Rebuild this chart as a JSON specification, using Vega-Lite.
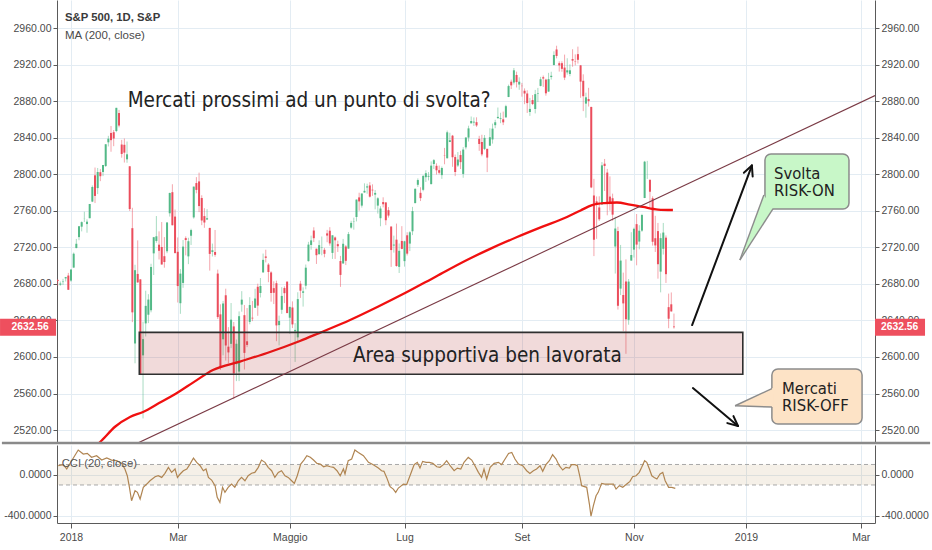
{
"$schema":"https://vega.github.io/schema/vega-lite/v6.json",
"background":"white",
"padding":0,
"spacing":2,
"bounds":"flush",
"config":{"view":{"stroke":null},"axis":{"labelFont":"Liberation Sans","labelFontSize":10.5,"labelColor":"#4a4a4a","domainColor":"#5a5a5a","tickColor":"#5a5a5a","gridColor":"#e3ecf3","gridWidth":1,"tickSize":4,"labelPadding":2}},
"datasets":{
"candles":[
{"n":-5,"o":2684.2,"h":2685.4,"l":2678.1,"c":2683.3},{"n":-4,"o":2679.1,"h":2682.7,"l":2678.0,"c":2680.5},{"n":-3,"o":2682.1,"h":2685.6,"l":2678.9,"c":2682.6},{"n":-2,"o":2686.1,"h":2687.7,"l":2682.7,"c":2687.5},{"n":-1,"o":2689.2,"h":2692.1,"l":2673.6,"c":2673.6},
{"n":0,"o":2683.7,"h":2695.9,"l":2682.4,"c":2695.8},{"n":1,"o":2697.9,"h":2714.4,"l":2697.8,"c":2713.1},{"n":2,"o":2719.3,"h":2729.3,"l":2719.1,"c":2724.0},{"n":3,"o":2731.3,"h":2743.5,"l":2727.9,"c":2743.2},{"n":4,"o":2742.7,"h":2748.5,"l":2737.6,"c":2747.7},{"n":5,"o":2751.2,"h":2759.1,"l":2747.9,"c":2751.3},{"n":6,"o":2745.6,"h":2750.8,"l":2736.1,"c":2748.2},{"n":7,"o":2752.0,"h":2767.6,"l":2752.0,"c":2767.6},{"n":8,"o":2770.2,"h":2787.9,"l":2769.6,"c":2786.2},{"n":9,"o":2799.0,"h":2807.5,"l":2768.6,"c":2776.4},
{"n":10,"o":2785.0,"h":2807.0,"l":2778.4,"c":2802.6},{"n":11,"o":2802.4,"h":2805.8,"l":2792.6,"c":2798.0},{"n":12,"o":2802.6,"h":2810.3,"l":2798.1,"c":2810.3},{"n":13,"o":2809.2,"h":2833.0,"l":2808.1,"c":2833.0},{"n":14,"o":2835.1,"h":2842.2,"l":2830.6,"c":2839.1},{"n":15,"o":2845.4,"h":2853.0,"l":2824.8,"c":2837.5},{"n":16,"o":2846.2,"h":2848.6,"l":2830.9,"c":2839.3},{"n":17,"o":2847.5,"h":2872.9,"l":2846.2,"c":2872.9},{"n":18,"o":2867.2,"h":2870.6,"l":2851.5,"c":2853.5},{"n":19,"o":2832.7,"h":2837.8,"l":2818.3,"c":2822.4},
{"n":20,"o":2832.4,"h":2839.3,"l":2813.0,"c":2823.8},{"n":21,"o":2816.5,"h":2836.0,"l":2812.7,"c":2822.0},{"n":22,"o":2808.9,"h":2808.9,"l":2760.0,"c":2762.1},{"n":23,"o":2741.1,"h":2763.4,"l":2638.2,"c":2648.9},{"n":24,"o":2614.8,"h":2701.0,"l":2593.1,"c":2695.1},{"n":25,"o":2691.0,"h":2727.7,"l":2681.3,"c":2681.7},{"n":26,"o":2685.0,"h":2685.3,"l":2580.6,"c":2581.0},{"n":27,"o":2601.8,"h":2638.7,"l":2532.7,"c":2619.6},{"n":28,"o":2636.8,"h":2672.6,"l":2622.5,"c":2656.0},{"n":29,"o":2646.3,"h":2668.8,"l":2637.1,"c":2662.9},
{"n":30,"o":2651.2,"h":2702.1,"l":2648.9,"c":2698.6},{"n":31,"o":2713.5,"h":2731.5,"l":2689.8,"c":2731.2},{"n":32,"o":2727.1,"h":2754.4,"l":2725.1,"c":2732.2},{"n":33,"o":2723.0,"h":2737.6,"l":2706.8,"c":2716.3},{"n":34,"o":2720.5,"h":2747.8,"l":2701.3,"c":2701.3},{"n":35,"o":2710.4,"h":2731.3,"l":2697.8,"c":2704.0},{"n":36,"o":2715.8,"h":2747.8,"l":2713.7,"c":2747.3},{"n":37,"o":2757.4,"h":2780.0,"l":2753.8,"c":2779.6},{"n":38,"o":2780.5,"h":2789.2,"l":2744.2,"c":2744.3},{"n":39,"o":2753.8,"h":2761.5,"l":2713.5,"c":2713.8},
{"n":40,"o":2715.2,"h":2730.9,"l":2659.7,"c":2677.7},{"n":41,"o":2658.9,"h":2696.3,"l":2647.3,"c":2691.3},{"n":42,"o":2681.1,"h":2728.1,"l":2675.8,"c":2720.9},{"n":43,"o":2730.2,"h":2732.1,"l":2711.3,"c":2728.1},{"n":44,"o":2710.2,"h":2730.6,"l":2701.7,"c":2726.8},{"n":45,"o":2732.8,"h":2740.5,"l":2722.7,"c":2739.0},{"n":46,"o":2752.9,"h":2786.6,"l":2751.5,"c":2786.6},{"n":47,"o":2790.5,"h":2797.0,"l":2779.3,"c":2783.0},{"n":48,"o":2792.3,"h":2801.9,"l":2758.7,"c":2765.3},{"n":49,"o":2774.1,"h":2777.1,"l":2744.4,"c":2749.5},
{"n":50,"o":2754.3,"h":2763.0,"l":2741.5,"c":2747.3},{"n":51,"o":2750.6,"h":2761.9,"l":2750.0,"c":2752.0},{"n":52,"o":2741.4,"h":2741.4,"l":2694.6,"c":2712.9},{"n":53,"o":2715.1,"h":2724.2,"l":2710.1,"c":2716.9},{"n":54,"o":2715.0,"h":2739.1,"l":2709.8,"c":2711.9},{"n":55,"o":2691.4,"h":2695.7,"l":2641.6,"c":2643.7},{"n":56,"o":2646.7,"h":2657.7,"l":2585.9,"c":2588.3},{"n":57,"o":2619.4,"h":2661.4,"l":2601.8,"c":2658.6},{"n":58,"o":2667.6,"h":2674.8,"l":2596.1,"c":2612.6},{"n":59,"o":2611.3,"h":2632.7,"l":2593.1,"c":2605.0},
{"n":60,"o":2614.4,"h":2659.1,"l":2609.7,"c":2640.9},{"n":61,"o":2633.5,"h":2638.3,"l":2553.8,"c":2581.9},{"n":62,"o":2592.2,"h":2619.1,"l":2573.6,"c":2614.5},{"n":63,"o":2584.0,"h":2649.9,"l":2573.6,"c":2644.7},{"n":64,"o":2657.4,"h":2672.1,"l":2649.6,"c":2662.8},{"n":65,"o":2645.8,"h":2656.9,"l":2586.3,"c":2604.5},{"n":66,"o":2617.2,"h":2653.6,"l":2610.8,"c":2613.2},{"n":67,"o":2638.4,"h":2665.5,"l":2635.8,"c":2656.9},{"n":68,"o":2643.0,"h":2661.4,"l":2639.3,"c":2642.2},{"n":69,"o":2653.8,"h":2674.7,"l":2653.8,"c":2664.0},
{"n":70,"o":2676.9,"h":2680.3,"l":2645.1,"c":2656.3},{"n":71,"o":2670.1,"h":2686.5,"l":2665.2,"c":2677.8},{"n":72,"o":2692.7,"h":2713.3,"l":2692.1,"c":2706.4},{"n":73,"o":2710.1,"h":2717.5,"l":2703.6,"c":2708.6},{"n":74,"o":2701.2,"h":2702.8,"l":2681.9,"c":2693.1},{"n":75,"o":2692.6,"h":2693.9,"l":2660.6,"c":2670.1},{"n":76,"o":2675.4,"h":2682.9,"l":2658.0,"c":2670.3},{"n":77,"o":2680.8,"h":2683.6,"l":2617.3,"c":2634.6},{"n":78,"o":2634.9,"h":2645.3,"l":2612.7,"c":2639.4},{"n":79,"o":2651.7,"h":2676.5,"l":2647.2,"c":2666.9},
{"n":80,"o":2675.5,"h":2677.4,"l":2659.0,"c":2669.9},{"n":81,"o":2682.5,"h":2682.9,"l":2648.0,"c":2648.1},{"n":82,"o":2643.0,"h":2655.3,"l":2625.4,"c":2654.8},{"n":83,"o":2654.2,"h":2660.9,"l":2631.7,"c":2635.7},{"n":84,"o":2628.1,"h":2637.1,"l":2594.6,"c":2629.7},{"n":85,"o":2621.5,"h":2670.9,"l":2615.3,"c":2663.4},{"n":86,"o":2680.3,"h":2683.4,"l":2664.7,"c":2672.6},{"n":87,"o":2670.3,"h":2676.3,"l":2655.2,"c":2671.9},{"n":88,"o":2678.1,"h":2701.3,"l":2674.1,"c":2697.8},{"n":89,"o":2705.0,"h":2726.1,"l":2704.5,"c":2723.1},
{"n":90,"o":2722.7,"h":2732.9,"l":2717.5,"c":2727.7},{"n":91,"o":2738.5,"h":2742.1,"l":2725.9,"c":2730.1},{"n":92,"o":2718.6,"h":2718.6,"l":2701.9,"c":2711.5},{"n":93,"o":2712.6,"h":2727.8,"l":2712.2,"c":2722.5},{"n":94,"o":2719.7,"h":2732.0,"l":2711.4,"c":2720.1},{"n":95,"o":2717.4,"h":2719.5,"l":2709.2,"c":2713.0},{"n":96,"o":2735.4,"h":2739.2,"l":2725.7,"c":2733.0},{"n":97,"o":2738.3,"h":2742.2,"l":2721.9,"c":2724.4},{"n":98,"o":2714.0,"h":2733.3,"l":2707.4,"c":2733.3},{"n":99,"o":2730.9,"h":2732.0,"l":2707.4,"c":2727.8},
{"n":100,"o":2723.6,"h":2727.4,"l":2715.0,"c":2721.3},{"n":101,"o":2705.1,"h":2710.7,"l":2676.8,"c":2689.9},{"n":102,"o":2702.4,"h":2729.3,"l":2702.4,"c":2724.0},{"n":103,"o":2721.0,"h":2722.5,"l":2700.7,"c":2705.3},{"n":104,"o":2718.7,"h":2736.9,"l":2718.7,"c":2734.6},{"n":105,"o":2741.7,"h":2749.2,"l":2740.5,"c":2746.9},{"n":106,"o":2748.5,"h":2752.6,"l":2739.5,"c":2748.8},{"n":107,"o":2753.3,"h":2772.4,"l":2748.5,"c":2772.4},{"n":108,"o":2774.8,"h":2779.9,"l":2760.2,"c":2770.4},{"n":109,"o":2765.8,"h":2779.4,"l":2763.6,"c":2779.0},
{"n":110,"o":2780.2,"h":2790.2,"l":2779.9,"c":2782.0},{"n":111,"o":2785.6,"h":2789.8,"l":2778.8,"c":2786.9},{"n":112,"o":2787.9,"h":2791.5,"l":2774.7,"c":2775.6},{"n":113,"o":2783.2,"h":2789.1,"l":2776.5,"c":2782.5},{"n":114,"o":2777.8,"h":2782.8,"l":2761.7,"c":2779.7},{"n":115,"o":2765.8,"h":2775.0,"l":2757.1,"c":2773.8},{"n":116,"o":2752.0,"h":2765.1,"l":2743.2,"c":2762.6},{"n":117,"o":2769.7,"h":2774.9,"l":2763.9,"c":2767.3},{"n":118,"o":2769.3,"h":2769.3,"l":2744.4,"c":2749.8},{"n":119,"o":2760.8,"h":2764.2,"l":2752.7,"c":2754.9},
{"n":120,"o":2742.9,"h":2742.9,"l":2698.7,"c":2717.1},{"n":121,"o":2722.1,"h":2732.9,"l":2714.3,"c":2723.1},{"n":122,"o":2728.5,"h":2746.1,"l":2699.0,"c":2699.6},{"n":123,"o":2698.7,"h":2724.3,"l":2692.0,"c":2716.3},{"n":124,"o":2727.1,"h":2743.3,"l":2718.0,"c":2718.4},{"n":125,"o":2705.0,"h":2727.3,"l":2699.0,"c":2726.7},{"n":126,"o":2733.3,"h":2736.6,"l":2711.2,"c":2713.2},{"n":127,"o":2724.2,"h":2737.8,"l":2716.0,"c":2736.6},{"n":128,"o":2737.7,"h":2764.4,"l":2733.5,"c":2759.8},{"n":129,"o":2768.5,"h":2784.7,"l":2768.5,"c":2784.2},
{"n":130,"o":2788.6,"h":2795.6,"l":2786.2,"c":2793.8},{"n":131,"o":2779.8,"h":2785.9,"l":2770.8,"c":2774.0},{"n":132,"o":2783.1,"h":2799.2,"l":2781.5,"c":2798.3},{"n":133,"o":2796.9,"h":2804.5,"l":2791.7,"c":2801.3},{"n":134,"o":2797.4,"h":2802.5,"l":2793.4,"c":2798.4},{"n":135,"o":2789.3,"h":2814.2,"l":2789.2,"c":2809.6},{"n":136,"o":2811.4,"h":2816.8,"l":2805.9,"c":2815.6},{"n":137,"o":2809.4,"h":2812.1,"l":2799.8,"c":2804.5},{"n":138,"o":2804.6,"h":2809.7,"l":2800.0,"c":2801.8},{"n":139,"o":2799.2,"h":2808.6,"l":2795.1,"c":2807.0},
{"n":140,"o":2820.7,"h":2829.0,"l":2811.1,"c":2820.4},{"n":141,"o":2817.7,"h":2848.0,"l":2817.4,"c":2846.1},{"n":142,"o":2835.5,"h":2845.6,"l":2835.3,"c":2837.4},{"n":143,"o":2842.4,"h":2843.2,"l":2808.3,"c":2818.8},{"n":144,"o":2819.0,"h":2821.7,"l":2798.1,"c":2802.6},{"n":145,"o":2809.7,"h":2824.5,"l":2808.1,"c":2816.3},{"n":146,"o":2821.2,"h":2825.8,"l":2805.9,"c":2813.4},{"n":147,"o":2800.5,"h":2829.9,"l":2796.3,"c":2827.2},{"n":148,"o":2829.6,"h":2840.4,"l":2827.4,"c":2840.4},{"n":149,"o":2840.3,"h":2853.3,"l":2836.0,"c":2850.4},
{"n":150,"o":2855.9,"h":2863.4,"l":2855.9,"c":2858.5},{"n":151,"o":2856.8,"h":2862.4,"l":2853.1,"c":2857.7},{"n":152,"o":2857.2,"h":2862.5,"l":2852.0,"c":2853.6},{"n":153,"o":2838.9,"h":2842.2,"l":2825.8,"c":2833.3},{"n":154,"o":2835.5,"h":2843.4,"l":2819.9,"c":2821.9},{"n":155,"o":2827.9,"h":2843.1,"l":2826.6,"c":2840.0},{"n":156,"o":2828.0,"h":2828.0,"l":2802.5,"c":2818.4},{"n":157,"o":2831.4,"h":2850.5,"l":2831.4,"c":2840.7},{"n":158,"o":2838.3,"h":2855.6,"l":2833.7,"c":2850.1},{"n":159,"o":2853.9,"h":2859.8,"l":2850.6,"c":2857.1},
{"n":160,"o":2861.5,"h":2873.2,"l":2861.3,"c":2863.0},{"n":161,"o":2861.0,"h":2867.5,"l":2856.1,"c":2861.8},{"n":162,"o":2860.3,"h":2868.8,"l":2854.0,"c":2857.0},{"n":163,"o":2862.4,"h":2876.2,"l":2862.4,"c":2874.7},{"n":164,"o":2884.7,"h":2898.3,"l":2884.7,"c":2896.7},{"n":165,"o":2901.5,"h":2903.8,"l":2893.5,"c":2897.5},{"n":166,"o":2900.6,"h":2916.5,"l":2898.4,"c":2914.0},{"n":167,"o":2908.9,"h":2912.5,"l":2895.2,"c":2901.1},{"n":168,"o":2898.4,"h":2906.3,"l":2892.7,"c":2901.5},{"n":169,"o":2897.0,"h":2900.2,"l":2885.1,"c":2896.7},
{"n":170,"o":2891.6,"h":2894.2,"l":2876.9,"c":2888.6},{"n":171,"o":2888.6,"h":2892.1,"l":2867.3,"c":2878.1},{"n":172,"o":2868.3,"h":2883.8,"l":2864.1,"c":2871.7},{"n":173,"o":2881.4,"h":2886.9,"l":2875.9,"c":2877.1},{"n":174,"o":2871.6,"h":2892.5,"l":2866.8,"c":2887.9},{"n":175,"o":2888.3,"h":2894.7,"l":2879.2,"c":2888.9},{"n":176,"o":2896.9,"h":2906.8,"l":2896.4,"c":2904.2},{"n":177,"o":2906.4,"h":2908.3,"l":2895.8,"c":2905.0},{"n":178,"o":2903.8,"h":2904.7,"l":2886.2,"c":2888.8},{"n":179,"o":2890.7,"h":2911.2,"l":2890.4,"c":2904.3},
{"n":180,"o":2906.6,"h":2912.4,"l":2903.8,"c":2908.0},{"n":181,"o":2919.7,"h":2934.8,"l":2919.7,"c":2930.8},{"n":182,"o":2936.8,"h":2940.9,"l":2927.1,"c":2929.7},{"n":183,"o":2921.8,"h":2923.8,"l":2912.6,"c":2919.4},{"n":184,"o":2921.8,"h":2923.9,"l":2912.4,"c":2915.6},{"n":185,"o":2917.0,"h":2931.2,"l":2903.3,"c":2906.0},{"n":186,"o":2911.7,"h":2927.2,"l":2909.3,"c":2914.0},{"n":187,"o":2910.0,"h":2920.5,"l":2907.5,"c":2914.0},{"n":188,"o":2926.3,"h":2937.1,"l":2917.9,"c":2924.6},{"n":189,"o":2923.8,"h":2931.4,"l":2919.4,"c":2923.4},
{"n":190,"o":2931.7,"h":2939.9,"l":2921.4,"c":2925.5},{"n":191,"o":2919.4,"h":2919.8,"l":2883.9,"c":2901.6},{"n":192,"o":2902.5,"h":2909.6,"l":2869.3,"c":2885.6},{"n":193,"o":2877.5,"h":2889.5,"l":2862.1,"c":2884.4},{"n":194,"o":2882.5,"h":2894.8,"l":2874.3,"c":2880.3},{"n":195,"o":2873.9,"h":2874.0,"l":2784.9,"c":2785.7},{"n":196,"o":2776.9,"h":2795.1,"l":2710.5,"c":2728.4},{"n":197,"o":2770.5,"h":2775.8,"l":2729.4,"c":2767.1},{"n":198,"o":2763.8,"h":2776.0,"l":2749.0,"c":2750.8},{"n":199,"o":2767.1,"h":2813.5,"l":2766.9,"c":2809.9},
{"n":200,"o":2811.7,"h":2816.9,"l":2781.8,"c":2809.2},{"n":201,"o":2802.0,"h":2806.0,"l":2755.2,"c":2768.8},{"n":202,"o":2775.7,"h":2797.8,"l":2760.3,"c":2767.8},{"n":203,"o":2773.9,"h":2778.9,"l":2749.2,"c":2755.9},{"n":204,"o":2721.0,"h":2753.6,"l":2691.4,"c":2740.7},{"n":205,"o":2737.9,"h":2742.6,"l":2651.9,"c":2656.1},{"n":206,"o":2674.9,"h":2722.7,"l":2667.8,"c":2705.6},{"n":207,"o":2667.9,"h":2692.4,"l":2628.2,"c":2658.7},{"n":208,"o":2682.7,"h":2706.9,"l":2603.5,"c":2641.3},{"n":209,"o":2640.7,"h":2685.4,"l":2635.3,"c":2682.6},
{"n":210,"o":2705.6,"h":2736.7,"l":2705.6,"c":2711.7},{"n":211,"o":2717.6,"h":2741.7,"l":2708.9,"c":2740.4},{"n":212,"o":2745.5,"h":2756.6,"l":2700.4,"c":2723.1},{"n":213,"o":2726.4,"h":2744.3,"l":2717.9,"c":2738.3},{"n":214,"o":2738.4,"h":2756.8,"l":2737.1,"c":2755.5},{"n":215,"o":2774.1,"h":2814.8,"l":2774.1,"c":2813.9},{"n":216,"o":2806.8,"h":2814.8,"l":2795.0,"c":2806.8},{"n":217,"o":2794.1,"h":2794.1,"l":2764.2,"c":2781.0},{"n":218,"o":2773.9,"h":2776.0,"l":2722.0,"c":2726.2},{"n":219,"o":2730.1,"h":2754.6,"l":2715.0,"c":2722.2},
{"n":220,"o":2737.9,"h":2746.8,"l":2685.8,"c":2701.6},{"n":221,"o":2693.5,"h":2735.4,"l":2670.8,"c":2730.2},{"n":222,"o":2718.5,"h":2746.8,"l":2712.2,"c":2736.3},{"n":223,"o":2730.7,"h":2733.2,"l":2681.1,"c":2690.7},{"n":224,"o":2654.6,"h":2669.4,"l":2631.5,"c":2641.9},{"n":225,"o":2657.7,"h":2670.7,"l":2649.8,"c":2649.9},{"n":226,"o":2633.4,"h":2647.6,"l":2631.1,"c":2632.6}
],
"ma":[{"n":5,"p":2494},{"n":10.9,"p":2506.9},{"n":16.5,"p":2523.6},{"n":22.1,"p":2534.3},{"n":27,"p":2539.8},{"n":33,"p":2549.5},{"n":39.7,"p":2560.6},{"n":46,"p":2572.5},{"n":53.2,"p":2585.8},{"n":63.3,"p":2595},{"n":73.5,"p":2604.4},{"n":85.8,"p":2617.5},{"n":93,"p":2626.2},{"n":104.6,"p":2640.5},{"n":115,"p":2655},{"n":125.2,"p":2670},{"n":137,"p":2688.5},{"n":148.4,"p":2706.2},{"n":157.5,"p":2719},{"n":167.2,"p":2731.4},{"n":176.5,"p":2742.5},{"n":185.9,"p":2753.3},{"n":191,"p":2760.5},{"n":195.3,"p":2766.4},{"n":200,"p":2768.6},{"n":204.6,"p":2769.2},{"n":209.5,"p":2767},{"n":214.4,"p":2764.3},{"n":220,"p":2761.5},{"n":225.6,"p":2761}],
"cci":[{"n":-4.75,"v":88},{"n":-2.9,"v":98},{"n":-1.6,"v":56},{"n":0.25,"v":137},{"n":2.7,"v":241},{"n":4.6,"v":202},{"n":6.1,"v":208},{"n":7.7,"v":170},{"n":9.6,"v":185},{"n":11.5,"v":143},{"n":13.4,"v":163},{"n":15.2,"v":143},{"n":17.1,"v":137},{"n":19,"v":111},{"n":20.2,"v":56},{"n":21.1,"v":-10},{"n":21.9,"v":-123},{"n":22.7,"v":-254},{"n":24,"v":-156},{"n":24.9,"v":-172},{"n":25.9,"v":-237},{"n":27.1,"v":-123},{"n":28.4,"v":-91},{"n":29.6,"v":-59},{"n":31.5,"v":-20},{"n":32.7,"v":-10},{"n":34,"v":-26},{"n":35.2,"v":14},{"n":36.5,"v":72},{"n":37.7,"v":23},{"n":39,"v":56},{"n":39.9,"v":-26},{"n":40.9,"v":7},{"n":42.1,"v":39},{"n":43.4,"v":56},{"n":44.6,"v":104},{"n":45.9,"v":163},{"n":47.1,"v":121},{"n":48.4,"v":88},{"n":49.6,"v":39},{"n":50.6,"v":56},{"n":51.5,"v":-26},{"n":52.7,"v":-52},{"n":54,"v":-107},{"n":54.8,"v":-221},{"n":55.8,"v":-270},{"n":56.8,"v":-123},{"n":57.7,"v":-172},{"n":58.9,"v":-123},{"n":60.2,"v":-91},{"n":61.4,"v":-123},{"n":62.7,"v":-59},{"n":63.9,"v":-26},{"n":65.2,"v":-59},{"n":66.4,"v":-10},{"n":67.7,"v":14},{"n":68.9,"v":23},{"n":70.2,"v":72},{"n":71.4,"v":143},{"n":72.7,"v":121},{"n":73.9,"v":72},{"n":75.2,"v":39},{"n":76.4,"v":-26},{"n":77.7,"v":23},{"n":78.9,"v":39},{"n":80.2,"v":-10},{"n":81.4,"v":-26},{"n":82.7,"v":-59},{"n":83.7,"v":-85},{"n":84.8,"v":-10},{"n":86.1,"v":104},{"n":87.3,"v":143},{"n":88.4,"v":185},{"n":89.7,"v":170},{"n":90.9,"v":143},{"n":92.2,"v":111},{"n":93.4,"v":104},{"n":94.7,"v":78},{"n":95.9,"v":88},{"n":97.2,"v":78},{"n":98.4,"v":72},{"n":99.7,"v":39},{"n":100.9,"v":-10},{"n":102.1,"v":56},{"n":102.7,"v":7},{"n":103.9,"v":137},{"n":105.2,"v":153},{"n":106.4,"v":241},{"n":107.7,"v":218},{"n":109.6,"v":186},{"n":111.5,"v":121},{"n":113.3,"v":98},{"n":115.2,"v":65},{"n":116.4,"v":39},{"n":117.3,"v":33},{"n":118.3,"v":-26},{"n":119.6,"v":-117},{"n":120.8,"v":-140},{"n":121.7,"v":-172},{"n":122.7,"v":-130},{"n":124.6,"v":-91},{"n":125.8,"v":-97},{"n":127.3,"v":7},{"n":128.6,"v":98},{"n":129.8,"v":121},{"n":130.8,"v":65},{"n":131.8,"v":130},{"n":133.1,"v":121},{"n":134.3,"v":121},{"n":135.6,"v":111},{"n":137.1,"v":78},{"n":138.3,"v":72},{"n":139.6,"v":98},{"n":140.8,"v":137},{"n":142.1,"v":88},{"n":143.6,"v":39},{"n":144.8,"v":65},{"n":146.1,"v":56},{"n":147.3,"v":121},{"n":148.9,"v":169},{"n":150.2,"v":143},{"n":151.4,"v":88},{"n":152.7,"v":23},{"n":153.9,"v":-26},{"n":154.8,"v":56},{"n":155.8,"v":-42},{"n":157.1,"v":72},{"n":158.6,"v":111},{"n":160.2,"v":121},{"n":161.4,"v":98},{"n":162.7,"v":153},{"n":164,"v":208},{"n":165.2,"v":218},{"n":166.4,"v":153},{"n":167.7,"v":104},{"n":169.3,"v":88},{"n":170.8,"v":39},{"n":172,"v":13},{"n":173.3,"v":39},{"n":174.5,"v":56},{"n":175.8,"v":88},{"n":176.8,"v":33},{"n":178,"v":98},{"n":179.3,"v":137},{"n":180.5,"v":196},{"n":181.8,"v":153},{"n":183,"v":88},{"n":184.3,"v":46},{"n":185.5,"v":72},{"n":186.8,"v":65},{"n":187.6,"v":98},{"n":188.9,"v":98},{"n":189.8,"v":88},{"n":190.8,"v":-26},{"n":191.4,"v":-107},{"n":193.3,"v":-123},{"n":194.3,"v":-286},{"n":194.9,"v":-405},{"n":195.8,"v":-302},{"n":196.8,"v":-205},{"n":197.6,"v":-172},{"n":198.9,"v":-84},{"n":200.1,"v":-91},{"n":201.8,"v":-91},{"n":203.3,"v":-91},{"n":204.3,"v":-140},{"n":205.5,"v":-107},{"n":206.8,"v":-123},{"n":208.3,"v":-91},{"n":209.5,"v":-65},{"n":210.5,"v":-19},{"n":211.8,"v":-10},{"n":213,"v":23},{"n":213.9,"v":72},{"n":215,"v":137},{"n":215.8,"v":121},{"n":216.8,"v":56},{"n":217.7,"v":-10},{"n":218.6,"v":-26},{"n":219.6,"v":-42},{"n":220.8,"v":7},{"n":221.8,"v":23},{"n":222.7,"v":-58},{"n":224,"v":-123},{"n":225.2,"v":-123},{"n":226.5,"v":-133}],
"trend":[{"a":25,"b":2505.7,"a2":301.35,"b2":2886.3}],
"separator":[{"a":-25.9,"a2":322,"b":2505.8}],
"zone":[{"a":25.6,"a2":251.8,"b":2581.1,"b2":2627.0}],
"bigtext":[{"t":"Mercati prossimi ad un punto di svolta?","n":21.25,"p":2873.5},{"t":"Area supportiva ben lavorata","n":105.7,"p":2594.8}],
"callouts":[{"k":"on","a":260.1,"a2":291.6,"b":2762.1,"b2":2822.3},{"k":"off","a":262.7,"a2":296.5,"b":2526.6,"b2":2586.8}],
"ptr":[{"k":"on","n":250.7,"y":2706.2,"y2":2706.2},{"k":"on","n":259.7,"y":2777.4,"y2":2746.8},{"k":"on","n":263.1,"y":2762.1,"y2":2762.1},{"k":"off","n":248.9,"y":2546.6,"y2":2546.6},{"k":"off","n":263.3,"y":2566.2,"y2":2545.1}],
"edges":[{"a":250.7,"b":2706.2,"a2":259.7,"b2":2777.4},{"a":250.7,"b":2706.2,"a2":263.1,"b2":2762.1},{"a":248.9,"b":2546.6,"a2":262.7,"b2":2565.4},{"a":248.9,"b":2546.6,"a2":262.7,"b2":2545.2}],
"arrows":[{"a":232.8,"b":2635.0,"a2":255.2,"b2":2809.7},{"a":255.2,"b":2809.7,"a2":252.2,"b2":2801.8},{"a":255.2,"b":2809.7,"a2":255.5,"b2":2797.7},{"a":233.1,"b":2566.0,"a2":250.0,"b2":2524.4},{"a":250.0,"b":2524.4,"a2":248.3,"b2":2535.3},{"a":250.0,"b":2524.4,"a2":246.0,"b2":2527.6}],
"calltext":[{"t":"Svolta","n":263.5,"p":2795.4},{"t":"RISK-ON","n":263.5,"p":2776.6},{"t":"Mercati","n":266.5,"p":2559.9},{"t":"RISK-OFF","n":266.5,"p":2540.8}],
"tags":[{"a":-26.6,"a2":-5.6,"m":-15.3,"lo":2623.3,"hi":2641.9,"v":2632.56},{"a":301.35,"a2":320.1,"m":310.6,"lo":2623.3,"hi":2641.9,"v":2632.56}]
},
"vconcat":[
{
"width":818,"height":443,
"resolve":{"axis":{"y":"independent"}},
"layer":[
{"data":{"name":"candles"},"mark":{"type":"rule","strokeWidth":1,"opacity":0.5,"clip":true},
 "encoding":{
  "x":{"field":"n","type":"quantitative","title":null,"scale":{"domain":[-5.25,301.35],"nice":false,"zero":false},"axis":{"values":[0,40,82,125,169,211,253,296],"labels":false,"ticks":false,"grid":true,"domain":false}},
  "y":{"field":"l","type":"quantitative","title":null,"scale":{"domain":[2505.8,2991],"nice":false,"zero":false},"axis":{"orient":"left","values":[2520,2560,2600,2640,2680,2720,2760,2800,2840,2880,2920,2960],"format":".2f","grid":true}},
  "y2":{"field":"h"},
  "color":{"condition":{"test":"datum.c >= datum.o","value":"#53b987"},"value":"#eb4d5c"}}},
{"data":{"name":"candles"},"mark":{"type":"rule","strokeWidth":2,"clip":true},
 "encoding":{
  "x":{"field":"n","type":"quantitative","title":null,"scale":{"domain":[-5.25,301.35],"nice":false,"zero":false}},
  "y":{"field":"o","type":"quantitative","title":null,"scale":{"domain":[2505.8,2991],"nice":false,"zero":false},"axis":{"orient":"right","values":[2520,2560,2600,2640,2680,2720,2760,2800,2840,2880,2920,2960],"format":".2f","grid":false}},
  "y2":{"field":"c"},
  "color":{"condition":{"test":"datum.c >= datum.o","value":"#53b987"},"value":"#eb4d5c"}}},
{"data":{"name":"ma"},"mark":{"type":"line","color":"#f01010","strokeWidth":2.3,"clip":true,"interpolate":"monotone"},
 "encoding":{
  "x":{"field":"n","type":"quantitative","title":null,"scale":{"domain":[-5.25,301.35],"nice":false,"zero":false}},
  "y":{"field":"p","type":"quantitative","title":null,"scale":{"domain":[2505.8,2991],"nice":false,"zero":false},"axis":null}}},
{"data":{"name":"zone"},"mark":{"type":"rect","fill":"#b03030","fillOpacity":0.18,"stroke":"#2f2f2f","strokeWidth":1.6},
 "encoding":{
  "x":{"field":"a","type":"quantitative","title":null,"scale":{"domain":[-5.25,301.35],"nice":false,"zero":false}},"x2":{"field":"a2"},
  "y":{"field":"b","type":"quantitative","title":null,"scale":{"domain":[2505.8,2991],"nice":false,"zero":false},"axis":null},"y2":{"field":"b2"}}},
{"data":{"name":"trend"},"mark":{"type":"rule","color":"#7a3a45","strokeWidth":1.1,"clip":true},
 "encoding":{
  "x":{"field":"a","type":"quantitative","title":null,"scale":{"domain":[-5.25,301.35],"nice":false,"zero":false}},"x2":{"field":"a2"},
  "y":{"field":"b","type":"quantitative","title":null,"scale":{"domain":[2505.8,2991],"nice":false,"zero":false},"axis":null},"y2":{"field":"b2"}}},
{"data":{"name":"separator"},"mark":{"type":"rule","color":"#8a8a8a","strokeWidth":2.5},
 "encoding":{
  "x":{"field":"a","type":"quantitative","title":null,"scale":{"domain":[-5.25,301.35],"nice":false,"zero":false}},"x2":{"field":"a2"},
  "y":{"field":"b","type":"quantitative","title":null,"scale":{"domain":[2505.8,2991],"nice":false,"zero":false},"axis":null}}},
{"data":{"name":"bigtext"},"mark":{"type":"text","align":"left","baseline":"alphabetic","font":"DejaVu Sans Condensed, Open Sans","fontSize":20.5,"color":"#222222"},
 "encoding":{
  "x":{"field":"n","type":"quantitative","title":null,"scale":{"domain":[-5.25,301.35],"nice":false,"zero":false}},
  "y":{"field":"p","type":"quantitative","title":null,"scale":{"domain":[2505.8,2991],"nice":false,"zero":false},"axis":null},
  "text":{"field":"t"}}},
{"data":{"name":"callouts"},"mark":{"type":"rect","cornerRadius":6,"stroke":"#8c8c8c","strokeWidth":1.5},
 "encoding":{
  "x":{"field":"a","type":"quantitative","title":null,"scale":{"domain":[-5.25,301.35],"nice":false,"zero":false}},"x2":{"field":"a2"},
  "y":{"field":"b","type":"quantitative","title":null,"scale":{"domain":[2505.8,2991],"nice":false,"zero":false},"axis":null},"y2":{"field":"b2"},
  "color":{"field":"k","type":"nominal","scale":{"domain":["on","off"],"range":["#c8f7c8","#fde3c6"]},"legend":null}}},
{"data":{"name":"ptr"},"mark":{"type":"area","opacity":1},
 "encoding":{
  "x":{"field":"n","type":"quantitative","title":null,"scale":{"domain":[-5.25,301.35],"nice":false,"zero":false}},
  "y":{"field":"y","type":"quantitative","title":null,"scale":{"domain":[2505.8,2991],"nice":false,"zero":false},"axis":null},"y2":{"field":"y2"},
  "color":{"field":"k","type":"nominal","scale":{"domain":["on","off"],"range":["#c8f7c8","#fde3c6"]},"legend":null}}},
{"data":{"name":"edges"},"mark":{"type":"rule","color":"#8c8c8c","strokeWidth":1.4},
 "encoding":{
  "x":{"field":"a","type":"quantitative","title":null,"scale":{"domain":[-5.25,301.35],"nice":false,"zero":false}},"x2":{"field":"a2"},
  "y":{"field":"b","type":"quantitative","title":null,"scale":{"domain":[2505.8,2991],"nice":false,"zero":false},"axis":null},"y2":{"field":"b2"}}},
{"data":{"name":"arrows"},"mark":{"type":"rule","color":"#111111","strokeWidth":2,"strokeCap":"round"},
 "encoding":{
  "x":{"field":"a","type":"quantitative","title":null,"scale":{"domain":[-5.25,301.35],"nice":false,"zero":false}},"x2":{"field":"a2"},
  "y":{"field":"b","type":"quantitative","title":null,"scale":{"domain":[2505.8,2991],"nice":false,"zero":false},"axis":null},"y2":{"field":"b2"}}},
{"data":{"name":"calltext"},"mark":{"type":"text","align":"left","baseline":"alphabetic","font":"DejaVu Sans Condensed, Open Sans","fontSize":16.5,"color":"#222222"},
 "encoding":{
  "x":{"field":"n","type":"quantitative","title":null,"scale":{"domain":[-5.25,301.35],"nice":false,"zero":false}},
  "y":{"field":"p","type":"quantitative","title":null,"scale":{"domain":[2505.8,2991],"nice":false,"zero":false},"axis":null},
  "text":{"field":"t"}}},
{"data":{"values":[{"t":"S&P 500, 1D, S&P","n":-2.25,"p":2968.0}]},"mark":{"type":"text","align":"left","baseline":"alphabetic","font":"Liberation Sans","fontSize":11.3,"fontWeight":"bold","color":"#3a3a3a"},
 "encoding":{
  "x":{"field":"n","type":"quantitative","title":null,"scale":{"domain":[-5.25,301.35],"nice":false,"zero":false}},
  "y":{"field":"p","type":"quantitative","title":null,"scale":{"domain":[2505.8,2991],"nice":false,"zero":false},"axis":null},
  "text":{"field":"t"}}},
{"data":{"values":[{"t":"MA (200, close)","n":-2.25,"p":2948.3}]},"mark":{"type":"text","align":"left","baseline":"alphabetic","font":"Liberation Sans","fontSize":11.5,"color":"#4a4a4a"},
 "encoding":{
  "x":{"field":"n","type":"quantitative","title":null,"scale":{"domain":[-5.25,301.35],"nice":false,"zero":false}},
  "y":{"field":"p","type":"quantitative","title":null,"scale":{"domain":[2505.8,2991],"nice":false,"zero":false},"axis":null},
  "text":{"field":"t"}}},
{"data":{"name":"tags"},"mark":{"type":"rect","fill":"#ee4f5e"},
 "encoding":{
  "x":{"field":"a","type":"quantitative","title":null,"scale":{"domain":[-5.25,301.35],"nice":false,"zero":false}},"x2":{"field":"a2"},
  "y":{"field":"lo","type":"quantitative","title":null,"scale":{"domain":[2505.8,2991],"nice":false,"zero":false},"axis":null},"y2":{"field":"hi"}}},
{"data":{"name":"tags"},"mark":{"type":"text","align":"center","baseline":"middle","font":"Liberation Sans","fontSize":10.3,"fontWeight":"bold","color":"white"},
 "encoding":{
  "x":{"field":"m","type":"quantitative","title":null,"scale":{"domain":[-5.25,301.35],"nice":false,"zero":false}},
  "y":{"field":"v","type":"quantitative","title":null,"scale":{"domain":[2505.8,2991],"nice":false,"zero":false},"axis":null},
  "text":{"field":"v","format":".2f"}}}
]
},
{
"width":818,"height":78,
"resolve":{"axis":{"y":"independent"}},
"layer":[
{"data":{"values":[{"lo":-100,"hi":100}]},"mark":{"type":"rect","fill":"#b08d4f","fillOpacity":0.13},
 "encoding":{
  "y":{"field":"lo","type":"quantitative","title":null,"scale":{"domain":[-471,290],"nice":false,"zero":false},"axis":{"orient":"left","values":[0,-400],"grid":true,"labelExpr":"datum.value < 0 ? '-' + format(-datum.value, '.4f') : format(datum.value, '.4f')"}},
  "y2":{"field":"hi"}}},
{"data":{"values":[{"v":100},{"v":-100}]},"mark":{"type":"rule","color":"#a8a8a8","strokeDash":[4,3],"strokeWidth":1},
 "encoding":{
  "y":{"field":"v","type":"quantitative","title":null,"scale":{"domain":[-471,290],"nice":false,"zero":false},"axis":null}}},
{"data":{"name":"cci"},"mark":{"type":"line","color":"#b08552","strokeWidth":1.2,"clip":true},
 "encoding":{
  "x":{"field":"n","type":"quantitative","title":null,"scale":{"domain":[-5.25,301.35],"nice":false,"zero":false},"axis":{"values":[0,40,82,125,169,211,253,296],"grid":true,"tickSize":5,"labelPadding":4,"labelExpr":"datum.value==0?'2018':datum.value==40?'Mar':datum.value==82?'Maggio':datum.value==125?'Lug':datum.value==169?'Set':datum.value==211?'Nov':datum.value==253?'2019':'Mar'"}},
  "y":{"field":"v","type":"quantitative","title":null,"scale":{"domain":[-471,290],"nice":false,"zero":false},"axis":{"orient":"right","values":[0,-400],"grid":false,"labelExpr":"datum.value < 0 ? '-' + format(-datum.value, '.4f') : format(datum.value, '.4f')"}}}},
{"data":{"values":[{"t":"CCI (20, close)","n":-3.5,"v":78}]},"mark":{"type":"text","align":"left","baseline":"alphabetic","font":"Liberation Sans","fontSize":11.3,"color":"#555555"},
 "encoding":{
  "x":{"field":"n","type":"quantitative","title":null,"scale":{"domain":[-5.25,301.35],"nice":false,"zero":false}},
  "y":{"field":"v","type":"quantitative","title":null,"scale":{"domain":[-471,290],"nice":false,"zero":false},"axis":null},
  "text":{"field":"t"}}}
]
}
]
}
